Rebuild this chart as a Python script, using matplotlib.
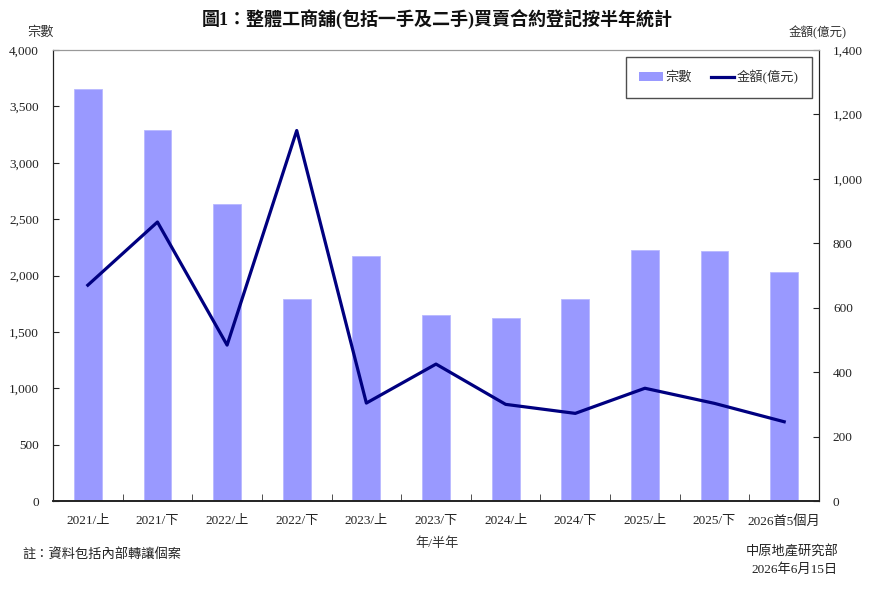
import matplotlib
matplotlib.use("Agg")
import matplotlib.pyplot as plt
from matplotlib.lines import Line2D
from matplotlib.patches import Patch
import numpy as np

categories = ["2021/上", "2021/下", "2022/上", "2022/下", "2023/上", "2023/下",
              "2024/上", "2024/下", "2025/上", "2025/下", "2026首5個月"]
counts = [3650, 3290, 2630, 1790, 2170, 1650, 1620, 1790, 2230, 2215, 2030]
amounts = [670, 866, 484, 1150, 304, 425, 300, 272, 350, 303, 246]

FONT = ['Liberation Serif', 'Noto Sans CJK TC', 'DejaVu Sans']
plt.rcParams['font.family'] = FONT

fig = plt.figure(figsize=(8.75, 5.96), dpi=100)
ax = fig.add_axes([53/875, 1-501/596, (819-53)/875, (501-50)/596])
ax2 = ax.twinx()

x = np.arange(len(categories))
ax.bar(x, counts, width=0.40, color="#9999FF", edgecolor="#B8B8FF", linewidth=0.6, zorder=2)
ax2.plot(x, amounts, color="#000080", linewidth=2.3, zorder=3)

ax.set_xlim(-0.5, len(categories) - 0.5)
ax.set_ylim(0, 4000)
ax2.set_ylim(0, 1400)
ax.set_yticks(np.arange(0, 4001, 500))
ax2.set_yticks(np.arange(0, 1401, 200))
ax.set_yticklabels([f"{v:,}" for v in range(0, 4001, 500)])
ax2.set_yticklabels([f"{v:,}" for v in range(0, 1401, 200)])

ax.set_xticks(x)
ax.set_xticklabels(categories)
ax.set_xticks(np.arange(-0.5, len(categories), 1), minor=True)
ax.tick_params(axis='x', which='major', length=0, pad=10, labelsize=9.5, colors='#222222')
ax.tick_params(axis='x', which='minor', length=5, direction='in', color='#333333')
ax.tick_params(axis='y', length=4, direction='in', labelsize=9.5, colors='#222222', pad=10)
ax2.tick_params(axis='y', length=4, direction='in', labelsize=9.5, colors='#222222', pad=10)

for a in (ax, ax2):
    a.spines['top'].set_color('#999999')
    a.spines['top'].set_linewidth(0.8)
    a.spines['left'].set_color('#222222')
    a.spines['right'].set_color('#222222')
    a.spines['bottom'].set_color('#222222')
    a.spines['bottom'].set_linewidth(1.2)

handles = [Patch(facecolor="#9999FF", edgecolor="none"),
           Line2D([0], [0], color="#000080", linewidth=2.3)]
leg = ax2.legend(handles, ["宗數", "金額(億元)"], loc='upper right',
                 bbox_to_anchor=(0.991, 0.985), borderaxespad=0, ncol=2, frameon=True,
                 fancybox=False, edgecolor='#222222', handlelength=1.8, handletextpad=0.2,
                 columnspacing=1.4, borderpad=1.0, prop={'family': FONT, 'size': 9.5})
leg.get_frame().set_linewidth(1.0)
for t in leg.get_texts():
    t.set_color('#333333')

fig.text(437/875, 1-19/596, "圖1：整體工商舖(包括一手及二手)買賣合約登記按半年統計",
         ha='center', va='center', fontsize=13, fontweight='bold', color='#111111')
fig.text(40/875, 1-33/596, "宗數", ha='center', va='center', fontsize=9.5, color='#333333')
fig.text(818/875, 1-33/596, "金額(億元)", ha='center', va='center', fontsize=9, color='#333333')
fig.text(437/875, 1-544/596, "年/半年", ha='center', va='center', fontsize=9.5, color='#333333')
fig.text(22/875, 1-554/596, "註：資料包括內部轉讓個案", ha='left', va='center', fontsize=9.5, color='#222222')
fig.text(838/875, 1-552/596, "中原地產研究部", ha='right', va='center', fontsize=9.5, color='#222222')
fig.text(838/875, 1-570/596, "2026年6月15日", ha='right', va='center', fontsize=9.5, color='#222222')

fig.savefig("out.png", dpi=100)
